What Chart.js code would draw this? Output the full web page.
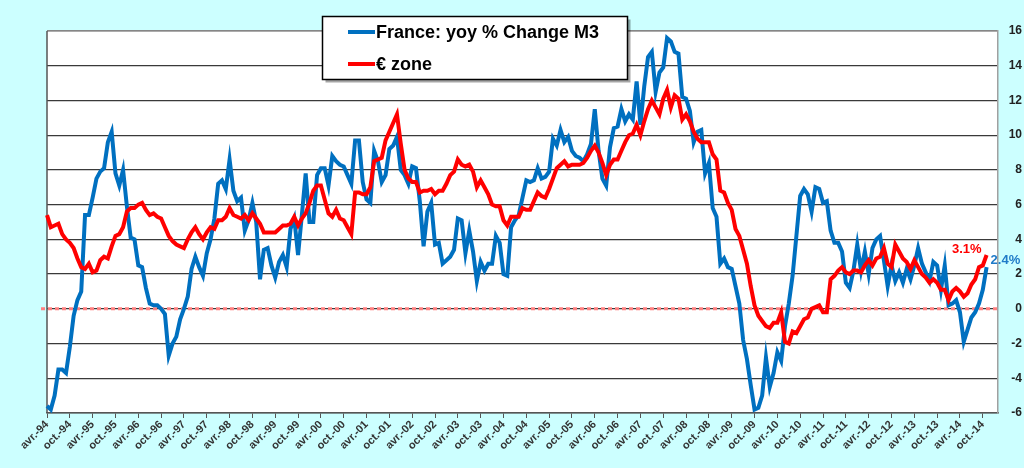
<!DOCTYPE html>
<html>
<head>
<meta charset="utf-8">
<script src="https://cdn.jsdelivr.net/npm/chart.js@4"></script>
<style>
  html, body { margin: 0; padding: 0; background: #ccffff; }
  #wrap { width: 1024px; height: 468px; position: relative; }
</style>
</head>
<body>
<div id="wrap"><canvas id="myChart"></canvas></div>
<script>
// libellés des mois (axe des abscisses), de avr.-94 à févr.-15
const moisCourts = ['janv.', 'févr.', 'mars', 'avr.', 'mai', 'juin', 'juil.', 'août', 'sept.', 'oct.', 'nov.', 'déc.']
const premierMois = 3
const premiereAnnee = 1994
const nbMois = 251
const pasEtiquettes = 6

// France : M3 en glissement annuel (%), avr.-94 -> nov.-14
const france = [
  -5.6, -5.8, -5.0, -3.5, -3.5, -3.7, -2.2, -0.4, 0.5, 1.0, 5.4, 5.4,
  6.4, 7.5, 7.9, 8.1, 9.6, 10.2, 7.8, 7.1, 8.0, 5.9, 4.1, 4.0,
  2.5, 2.4, 1.2, 0.3, 0.2, 0.2, 0.0, -0.3, -2.7, -2.0, -1.6, -0.6,
  0.0, 0.7, 2.3, 3.0, 2.4, 1.9, 3.2, 4.0, 5.2, 7.2, 7.4, 6.9,
  8.6, 6.8, 6.2, 6.4, 4.5, 5.1, 6.1, 5.0, 1.7, 3.4, 3.5, 2.5,
  1.8, 2.7, 3.1, 2.4, 4.6, 5.2, 3.1, 5.4, 7.8, 5.0, 5.0, 7.7,
  8.1, 8.1, 7.1, 8.8, 8.5, 8.3, 8.2, 7.7, 7.2, 9.7, 9.7, 7.3,
  6.3, 6.1, 9.1, 8.5, 7.3, 7.7, 9.2, 9.4, 9.9, 8.0, 7.7, 7.2,
  8.2, 8.1, 6.2, 3.6, 5.6, 6.1, 3.7, 3.8, 2.6, 2.8, 3.0, 3.4,
  5.2, 5.1, 3.2, 4.5, 3.3, 1.6, 2.7, 2.2, 2.6, 2.6, 4.2, 3.8,
  2.0, 1.9, 4.7, 5.1, 5.4, 6.4, 7.4, 7.3, 7.4, 8.1, 7.5, 7.6,
  7.9, 9.8, 9.4, 10.3, 9.6, 9.9, 9.1, 8.8, 8.7, 8.5, 8.9, 9.5,
  11.5, 9.1, 7.5, 7.1, 9.3, 10.4, 10.5, 11.5, 10.8, 11.2, 10.9, 13.1,
  10.6, 12.8, 14.5, 14.8, 12.5, 13.6, 13.9, 15.6, 15.4, 14.8, 14.7, 12.2,
  12.1, 11.4, 9.6, 10.2, 10.3, 7.8, 8.4, 5.8, 5.3, 2.6, 2.9, 2.4,
  2.3, 1.3, 0.3, -1.8, -2.9, -4.4, -5.8, -5.7, -5.0, -2.8, -4.5, -3.7,
  -2.5, -3.0, -1.0, 0.3, 1.9, 4.2, 6.5, 6.9, 6.6, 5.6, 7.0, 6.9,
  6.1, 6.2, 4.5, 3.8, 3.8, 3.3, 1.5, 1.2, 2.2, 3.7, 2.2, 3.3,
  2.0, 3.5, 4.0, 4.2, 2.8, 1.3, 2.5, 1.6, 2.1, 1.5, 2.3, 1.7,
  2.5, 3.5, 2.6, 2.1, 1.6, 2.7, 2.5, 1.1, 2.5, 0.2, 0.3, 0.5,
  -0.2, -1.9, -1.2, -0.5, -0.2, 0.3, 1.1, 2.4,
]

// zone euro : M3 en glissement annuel (%)
const zoneEuro = [
  5.4, 4.7, 4.8, 4.9, 4.3, 4.0, 3.8, 3.5, 2.9, 2.4, 2.3, 2.6,
  2.1, 2.2, 2.8, 3.0, 2.9, 3.6, 4.2, 4.3, 4.7, 5.6, 5.8, 5.8,
  6.0, 6.1, 5.7, 5.4, 5.5, 5.3, 5.2, 4.7, 4.2, 3.9, 3.7, 3.6,
  3.5, 4.0, 4.4, 4.7, 4.3, 4.0, 4.4, 4.7, 4.6, 5.1, 5.1, 5.3,
  5.8, 5.4, 5.3, 5.2, 5.4, 5.1, 5.5, 5.2, 4.9, 4.4, 4.4, 4.4,
  4.4, 4.6, 4.8, 4.8, 4.9, 5.3, 4.8, 5.2, 5.5, 6.1, 6.8, 7.1,
  7.1, 6.3, 5.5, 5.3, 5.7, 5.2, 5.1, 4.7, 4.3, 6.7, 6.7, 6.6,
  6.6, 7.0, 8.5, 8.6, 8.7, 9.7, 10.2, 10.7, 11.2, 9.5, 8.0, 7.5,
  7.3, 7.3, 6.7, 6.8, 6.8, 6.9, 6.6, 6.8, 6.8, 7.2, 7.7, 7.9,
  8.6, 8.3, 8.2, 8.3, 7.9, 7.0, 7.4, 7.0, 6.6, 6.0, 5.9, 5.9,
  5.1, 4.8, 5.3, 5.3, 5.3, 5.8, 5.7, 5.7, 6.2, 6.7, 6.5, 6.4,
  6.9, 7.5, 8.1, 8.3, 8.5, 8.2, 8.3, 8.3, 8.3, 8.4, 8.7, 9.1,
  9.4, 9.0, 8.4, 7.7, 8.3, 8.6, 8.6, 9.1, 9.6, 10.0, 10.1, 10.6,
  10.0, 10.8, 11.5, 12.0, 11.6, 11.2, 12.1, 12.6, 11.6, 12.3, 12.1, 10.9,
  11.2, 10.8, 10.2, 9.8, 9.6, 9.6, 9.6, 8.9, 8.6, 6.8, 6.7, 6.1,
  5.7, 4.6, 4.2, 3.4, 2.6, 1.3, 0.2, -0.4, -0.7, -1.0, -1.1, -0.8,
  -0.8, -0.2, -1.9, -2.0, -1.3, -1.4, -1.0, -0.6, -0.5, 0.0, 0.1, 0.2,
  -0.2, -0.2, 1.7, 1.9, 2.2, 2.4, 2.1, 2.0, 2.2, 2.2, 2.1, 2.5,
  2.8, 2.5, 2.9, 3.0, 3.5, 2.6, 2.4, 3.7, 3.3, 2.9, 2.7, 2.3,
  2.8, 2.4, 2.0, 1.8, 1.5, 1.7, 1.5, 1.1, 1.1, 0.5, 1.0, 1.2,
  1.0, 0.7, 0.9, 1.4, 1.7, 2.4, 2.5, 3.1,
]

const legendes = ['France: yoy % Change M3', '€ zone']
const etiquettesFin = ['2.4%', '3.1%']

const labels = []
for (let k = 0; k < nbMois; k += 1) {
  const m = (premierMois + k) % 12
  const an = premiereAnnee + Math.floor((premierMois + k) / 12)
  labels.push(moisCourts[m] + '-' + String(an).slice(2))
}

const BLEU = '#0070c0'
const ROUGE = '#ff0000'
const police = '"Liberation Sans", Arial, sans-serif'

/**
 * Fond cyan, zone de tracé blanche, cadre et ligne du zéro en pointillés.
 */
const decor = {
  id: 'decor',
  beforeDraw(chart) {
    const { ctx, chartArea: a } = chart
    ctx.save()
    ctx.fillStyle = '#ccffff'
    ctx.fillRect(0, 0, chart.width, chart.height)
    ctx.fillStyle = '#ffffff'
    ctx.fillRect(a.left, a.top, a.right - a.left, a.bottom - a.top)
    ctx.restore()
  },
  beforeDatasetsDraw(chart) {
    const { ctx, chartArea: a } = chart
    const y0 = chart.scales.y.getPixelForValue(0)
    ctx.save()
    ctx.strokeStyle = '#a0a0a0'
    ctx.lineWidth = 1.5
    ctx.beginPath()
    ctx.moveTo(a.left, a.top)
    ctx.lineTo(a.right, a.top)
    ctx.stroke()
    ctx.strokeStyle = '#555555'
    ctx.beginPath()
    ctx.moveTo(a.left, a.top)
    ctx.lineTo(a.left, a.bottom)
    ctx.stroke()
    ctx.strokeStyle = '#ff8080'
    ctx.lineWidth = 3
    ctx.setLineDash([4, 3])
    ctx.beginPath()
    ctx.moveTo(a.left - 6, y0)
    ctx.lineTo(a.right, y0)
    ctx.stroke()
    ctx.restore()
  },
  afterDraw(chart) {
    const { ctx } = chart
    ctx.save()
    // légende encadrée
    const bx = 322.5
    const by = 16.5
    const bw = 305
    const bh = 63
    ctx.fillStyle = 'rgba(0, 0, 0, 0.35)'
    ctx.fillRect(bx + 3, by + 3, bw, bh)
    ctx.fillStyle = '#ffffff'
    ctx.fillRect(bx, by, bw, bh)
    ctx.strokeStyle = '#000000'
    ctx.lineWidth = 1.5
    ctx.strokeRect(bx, by, bw, bh)
    const couleurs = [BLEU, ROUGE]
    const ys = [32, 64]
    ctx.font = 'bold 18px ' + police
    ctx.textBaseline = 'middle'
    ctx.textAlign = 'left'
    legendes.forEach((txt, j) => {
      ctx.strokeStyle = couleurs[j]
      ctx.lineWidth = 4
      ctx.beginPath()
      ctx.moveTo(348, ys[j])
      ctx.lineTo(375, ys[j])
      ctx.stroke()
      ctx.fillStyle = '#000000'
      ctx.fillText(txt, 376, ys[j] + 1)
    })
    // valeurs en fin de courbe
    ctx.font = 'bold 13px ' + police
    ctx.textBaseline = 'alphabetic'
    const pB = chart.getDatasetMeta(0).data[france.length - 1]
    const pR = chart.getDatasetMeta(1).data[zoneEuro.length - 1]
    ctx.fillStyle = ROUGE
    ctx.textAlign = 'right'
    ctx.fillText(etiquettesFin[1], pR.x - 5, pR.y - 2)
    ctx.fillStyle = '#1f7bc8'
    ctx.textAlign = 'left'
    ctx.fillText(etiquettesFin[0], pB.x + 4, pB.y - 3)
    ctx.restore()
  },
}

const data = {
  labels,
  datasets: [
    {
      label: legendes[0],
      data: france,
      borderColor: BLEU,
      borderWidth: 4,
      pointRadius: 0,
      tension: 0,
      order: 2,
    },
    {
      label: legendes[1],
      data: zoneEuro,
      borderColor: ROUGE,
      borderWidth: 4,
      pointRadius: 0,
      tension: 0,
      order: 1,
    },
  ],
}

const options = {
  responsive: true,
  maintainAspectRatio: false,
  animation: false,
  layout: { padding: { left: 47, top: 31, right: 2, bottom: 0 } },
  plugins: {
    legend: { display: false },
    tooltip: { enabled: false },
  },
  scales: {
    x: {
      type: 'category',
      offset: false,
      grid: {
        drawOnChartArea: false,
        tickLength: 5,
        color: (c) => (c.index % pasEtiquettes === 0 ? '#555555' : 'rgba(0,0,0,0)'),
      },
      border: { color: '#555555', width: 1.5 },
      ticks: {
        autoSkip: false,
        maxRotation: 45,
        minRotation: 45,
        padding: 0,
        color: '#333333',
        font: { family: police, size: 11, weight: 'bold' },
        callback: (v, i) => (i % pasEtiquettes === 0 ? labels[i] : ''),
      },
      afterFit: (s) => { s.height = 55 },
    },
    y: {
      position: 'right',
      min: -6,
      max: 16,
      grid: { color: '#3a3a3a', lineWidth: 1.2, drawTicks: false },
      border: { color: '#a0a0a0', width: 1.5 },
      ticks: {
        stepSize: 2,
        padding: 4,
        crossAlign: 'far',
        color: '#222222',
        font: { family: police, size: 12, weight: 'bold' },
      },
      afterFit: (s) => { s.width = 24 },
    },
  },
}

const chart = new Chart(document.querySelector('#myChart'), {
  type: 'line',
  data,
  options,
  plugins: [decor],
})
</script>
</body>
</html>
